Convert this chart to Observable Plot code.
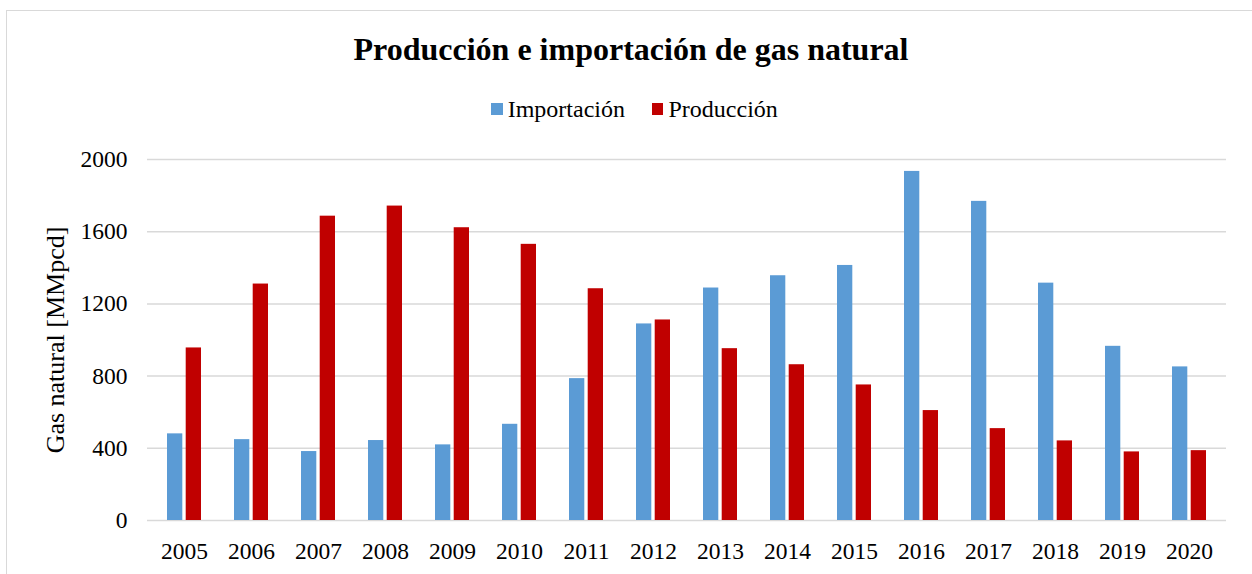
<!DOCTYPE html>
<html>
<head>
<meta charset="utf-8">
<script src="https://cdn.jsdelivr.net/npm/d3@7"></script>
<script src="https://cdn.jsdelivr.net/npm/@observablehq/plot@0.6"></script>
<style>
  html, body { margin: 0; padding: 0; background: #fff; overflow: hidden; }
  #wrap { position: relative; width: 1252px; height: 574px; overflow: hidden; font-family: "Liberation Serif", "Times New Roman", serif; color: #000; }
  #frame { position: absolute; left: 6px; top: 10px; width: 1262px; height: 600px; border: 1.5px solid #d9d9d9; box-sizing: border-box; }
  #title { position: absolute; left: 0; top: 33px; width: 1262px; text-align: center; font-size: 32px; line-height: 32px; font-weight: bold; }
  #legend { position: absolute; left: 0; top: 97px; width: 1269px; display: flex; justify-content: center; align-items: center; font-size: 24px; line-height: 24px; }
  #legend .item { display: flex; align-items: center; }
  #legend .sw { width: 11.5px; height: 11.5px; margin-right: 5px; }
  #legend .gap { width: 27px; }
  #chart { position: absolute; left: 0; top: 131px; }
  #chart svg [aria-label="y-axis label"] text, #chart svg [aria-label="y-axis label"] { font-size: 26px; }
</style>
</head>
<body>
<div id="wrap">
  <div id="frame"></div>
  <div id="title"></div>
  <div id="legend"></div>
  <div id="chart"></div>
</div>
<script>
const title = "Producción e importación de gas natural";
const seriesNames = ["Importación", "Producción"];
const seriesColors = ["#5B9BD5", "#C00000"];
const years = ["2005","2006","2007","2008","2009","2010","2011","2012","2013","2014","2015","2016","2017","2018","2019","2020"];
const importacion = [480, 448, 382, 443, 419, 533, 786, 1089, 1288, 1356, 1413, 1934, 1768, 1315, 965, 851];
const produccion = [956, 1310, 1686, 1742, 1622, 1530, 1284, 1111, 952, 863, 751, 609, 509, 441, 380, 387];
const yTicks = [0, 400, 800, 1200, 1600, 2000];
const yLabel = "Gas natural [MMpcd]";

document.getElementById("title").textContent = title;
const legend = document.getElementById("legend");
seriesNames.forEach((name, i) => {
  if (i > 0) { const g = document.createElement("div"); g.className = "gap"; legend.appendChild(g); }
  const item = document.createElement("div"); item.className = "item";
  const sw = document.createElement("div"); sw.className = "sw"; sw.style.background = seriesColors[i];
  const t = document.createElement("span"); t.textContent = name;
  item.appendChild(sw); item.appendChild(t); legend.appendChild(item);
});

const impRows = years.map((y, i) => ({year: y, value: importacion[i]}));
const prodRows = years.map((y, i) => ({year: y, value: produccion[i]}));

const chart = Plot.plot({
  width: 1252,
  height: 443,
  marginTop: 28,
  marginBottom: 54,
  marginLeft: 147,
  marginRight: 26,
  style: {fontFamily: "'Liberation Serif', 'Times New Roman', serif", fontSize: "23.5px", color: "#000", background: "transparent", overflow: "visible"},
  x: {domain: years, paddingInner: 0.5, paddingOuter: 0.25, tickSize: 0, tickPadding: 22, label: null},
  y: {domain: [0, 2000], ticks: yTicks, tickSize: 0, tickPadding: 20, tickFormat: d => String(d),
      label: yLabel, labelAnchor: "center", labelOffset: 102, labelArrow: "none"},
  marks: [
    Plot.ruleY(yTicks, {y: d => d, stroke: "#d9d9d9", strokeWidth: 1.5}),
    Plot.barY(impRows, {x: "year", y: "value", fill: seriesColors[0], insetRight: 18.7, insetLeft: 0}),
    Plot.barY(prodRows, {x: "year", y: "value", fill: seriesColors[1], insetLeft: 18.7, insetRight: 0})
  ]
});
document.getElementById("chart").appendChild(chart);
</script>
</body>
</html>
